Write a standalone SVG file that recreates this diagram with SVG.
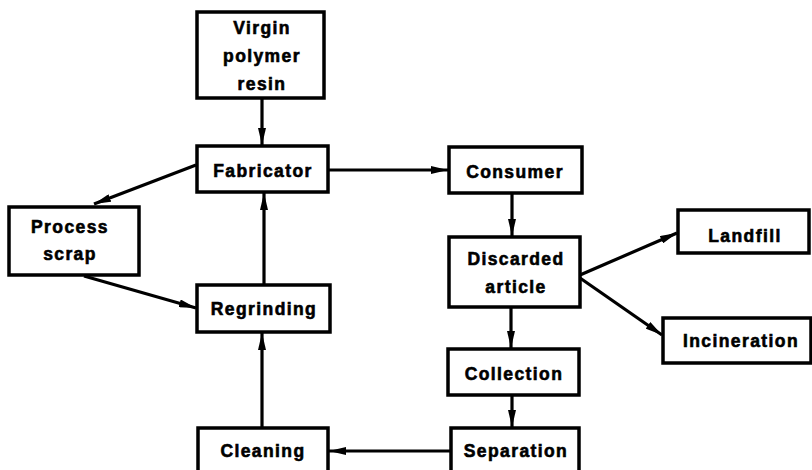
<svg xmlns="http://www.w3.org/2000/svg" width="812" height="470" viewBox="0 0 812 470">
<style>
.box{fill:#fff;stroke:#000;stroke-width:3.5}
.t{font-family:"Liberation Sans",Arial,sans-serif;font-weight:bold;font-size:17.5px;letter-spacing:1.4px;text-anchor:middle;fill:#000;stroke:#000;stroke-width:0.6}
.c{stroke:#000;stroke-width:3.2;fill:none;marker-end:url(#ah)}
</style>
<defs>
<marker id="ah" viewBox="0 0 17 8" refX="17" refY="4" markerWidth="17" markerHeight="8" markerUnits="userSpaceOnUse" orient="auto">
<path d="M0,0 L17,4 L0,8 Z" fill="#000"/>
</marker>
</defs>
<rect width="812" height="470" fill="#fff"/>
<g id="connectors">
<line class="c" x1="262" y1="98" x2="262" y2="145"/>
<line class="c" x1="196" y1="165" x2="94" y2="204"/>
<line class="c" x1="328" y1="170" x2="448" y2="170"/>
<line class="c" x1="512" y1="193" x2="512" y2="236"/>
<line class="c" x1="580" y1="275" x2="677" y2="233"/>
<line class="c" x1="580" y1="278" x2="662" y2="335"/>
<line class="c" x1="511" y1="307" x2="511" y2="348"/>
<line class="c" x1="512" y1="395" x2="512" y2="427"/>
<line class="c" x1="450" y1="451" x2="329" y2="451"/>
<line class="c" x1="262" y1="428" x2="262" y2="333"/>
<line class="c" x1="264" y1="285" x2="264" y2="193"/>
<line class="c" x1="84" y1="276" x2="196" y2="308"/>
</g>
<g id="virgin"><rect class="box" x="197" y="12" width="127" height="86"/>
<text class="t" x="262" y="34">Virgin</text><text class="t" x="262" y="62">polymer</text><text class="t" x="262" y="90">resin</text></g>
<g id="fabricator"><rect class="box" x="197" y="146" width="131" height="46"/>
<text class="t" x="263" y="177">Fabricator</text></g>
<g id="process-scrap"><rect class="box" x="9" y="207" width="130" height="68"/>
<text class="t" x="70" y="233">Process</text><text class="t" x="70" y="260">scrap</text></g>
<g id="consumer"><rect class="box" x="449" y="147" width="133" height="46"/>
<text class="t" x="515" y="178">Consumer</text></g>
<g id="discarded"><rect class="box" x="449" y="237" width="131" height="70"/>
<text class="t" x="516" y="265">Discarded</text><text class="t" x="516" y="293">article</text></g>
<g id="landfill"><rect class="box" x="678" y="210" width="131" height="43"/>
<text class="t" x="745" y="242">Landfill</text></g>
<g id="incineration"><rect class="box" x="663" y="318" width="148" height="45"/>
<text class="t" x="741" y="347">Incineration</text></g>
<g id="regrinding"><rect class="box" x="197" y="285" width="133" height="47"/>
<text class="t" x="264" y="315">Regrinding</text></g>
<g id="collection"><rect class="box" x="448" y="349" width="131" height="46"/>
<text class="t" x="514" y="380">Collection</text></g>
<g id="cleaning"><rect class="box" x="198" y="428" width="130" height="50"/>
<text class="t" x="263" y="457">Cleaning</text></g>
<g id="separation"><rect class="box" x="451" y="428" width="128" height="50"/>
<text class="t" x="516" y="457">Separation</text></g>
</svg>
